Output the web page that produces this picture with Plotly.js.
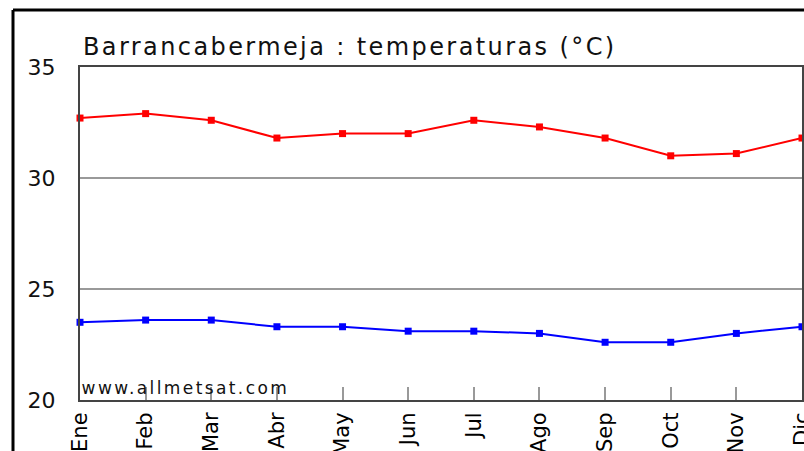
<!DOCTYPE html>
<html>
<head>
<meta charset="utf-8">
<script src="https://cdn.plot.ly/plotly-3.0.1.min.js"></script>
<style>
html,body{margin:0;padding:0;background:#fff;}
#chart{width:804px;height:451px;}
#chart .gtitle{letter-spacing:2.4px;}
#chart .annotation-text{letter-spacing:2.4px;}
</style>
</head>
<body>
<div id="chart"></div>
<script>
var months = ["Ene","Feb","Mar","Abr","May","Jun","Jul","Ago","Sep","Oct","Nov","Dic"];
var tmax = [32.7,32.9,32.6,31.8,32.0,32.0,32.6,32.3,31.8,31.0,31.1,31.8];
var tmin = [23.5,23.6,23.6,23.3,23.3,23.1,23.1,23.0,22.6,22.6,23.0,23.3];
var yTicks = [20,25,30,35];

var traces = [
  {x: months, y: tmax, type: "scatter", mode: "lines+markers", cliponaxis: false,
   line: {color: "#ff0000", width: 2}, marker: {symbol: "square", size: 7, color: "#ff0000"}, hoverinfo: "skip"},
  {x: months, y: tmin, type: "scatter", mode: "lines+markers", cliponaxis: false,
   line: {color: "#0000ff", width: 2}, marker: {symbol: "square", size: 7, color: "#0000ff"}, hoverinfo: "skip"}
];

var layout = {
  width: 804, height: 451,
  margin: {l: 80, r: 2, t: 67, b: 51, pad: 0},
  paper_bgcolor: "#ffffff", plot_bgcolor: "#ffffff",
  showlegend: false,
  font: {family: "DejaVu Sans", color: "#000", size: 22},
  title: {text: "Barrancabermeja : temperaturas (°C)", xref: "container", yref: "container",
          x: 83/804, xanchor: "left", y: 1 - 47/451, yanchor: "middle",
          font: {family: "DejaVu Sans", size: 24, color: "#111"}},
  xaxis: {type: "category", range: [0, 11], showgrid: false, zeroline: false,
          showline: true, mirror: true, linecolor: "#444", linewidth: 2,
          ticks: "inside", ticklen: 13, tickwidth: 2, tickcolor: "#999",
          tickangle: -90, ticklabelstandoff: 2,
          tickfont: {family: "DejaVu Sans", size: 21, color: "#000"}},
  yaxis: {range: [20, 35], tickvals: yTicks, ticktext: yTicks.map(String), showgrid: true,
          gridcolor: "#999", gridwidth: 2, zeroline: false,
          showline: true, mirror: true, linecolor: "#444", linewidth: 2,
          ticks: "", ticklabelstandoff: 18,
          tickfont: {family: "DejaVu Sans", size: 22, color: "#111"}},
  shapes: [
    {type: "line", xref: "paper", yref: "paper", x0: (13-80)/722, x1: 1.1, y0: (400-10)/333, y1: (400-10)/333,
     line: {color: "#000", width: 3}},
    {type: "line", xref: "paper", yref: "paper", x0: (13-80)/722, x1: (13-80)/722, y0: (400-10)/333, y1: -0.3,
     line: {color: "#000", width: 3}}
  ],
  annotations: [
    {text: "www.allmetsat.com", xref: "paper", yref: "paper", x: 0, y: 0, xanchor: "left", yanchor: "bottom",
     showarrow: false, xshift: 20, yshift: 0, font: {family: "DejaVu Sans", size: 17, color: "#111"}}
  ]
};

Plotly.newPlot("chart", traces, layout, {staticPlot: true, displayModeBar: false});
</script>
</body>
</html>
